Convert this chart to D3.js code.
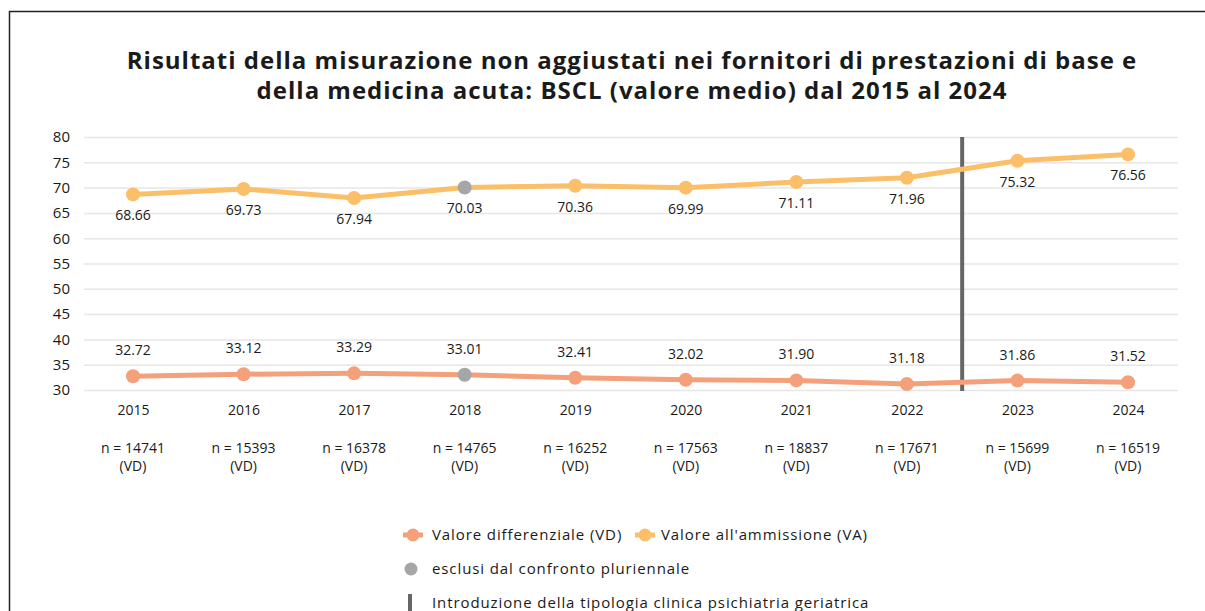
<!DOCTYPE html>
<html>
<head>
<meta charset="utf-8">
<script src="https://cdn.jsdelivr.net/npm/d3@7"></script>
<style>
html,body{margin:0;padding:0;background:#fff;}
svg{display:block;}
text{font-family:"Open Sans",sans-serif;fill:#1a1a1a;}
</style>
</head>
<body>
<svg id="chart" width="1205" height="611"></svg>
<script>
const years = ["2015","2016","2017","2018","2019","2020","2021","2022","2023","2024"];
const valoreVA = [68.66,69.73,67.94,70.03,70.36,69.99,71.11,71.96,75.32,76.56];
const valoreVD = [32.72,33.12,33.29,33.01,32.41,32.02,31.90,31.18,31.86,31.52];
const nVD = [14741,15393,16378,14765,16252,17563,18837,17671,15699,16519];
const excludedYears = ["2018"];
const yTicks = [30,35,40,45,50,55,60,65,70,75,80];
const titleLines = ["Risultati della misurazione non aggiustati nei fornitori di prestazioni di base e","della medicina acuta: BSCL (valore medio) dal 2015 al 2024"];
const legendSeries = ["Valore differenziale (VD)","Valore all'ammissione (VA)"];
const legendExcluded = "esclusi dal confronto pluriennale";
const legendLine = "Introduzione della tipologia clinica psichiatria geriatrica";
const breakAfter = "2022";

const colVD = "#F4A07A", colVA = "#FBBF69", colGrey = "#A6A6A6", colBar = "#666666";

const svg = d3.select("#chart");

// frame
svg.append("path").attr("d","M9.5,611 L9.5,11.5 L1205,11.5")
  .attr("fill","none").attr("stroke","#222").attr("stroke-width",1.5);

// title
const title = svg.append("text").attr("text-anchor","middle")
  .style("font-weight","700").style("font-size","24px").style("letter-spacing","1px");
titleLines.forEach((t,i)=>title.append("tspan").attr("x",632).attr("y",69+i*30).text(t));

const x = d3.scalePoint().domain(years).range([133,1128]);
const y = d3.scaleLinear().domain([30,80]).range([390,137]);

// grid
const yAxis = d3.axisLeft(y).tickValues(yTicks).tickSize(-(1178-84)).tickPadding(14);
const gy = svg.append("g").attr("transform","translate(84,0)").call(yAxis);
gy.select(".domain").remove();
gy.selectAll(".tick line").attr("stroke","#e6e6e6").attr("stroke-width",1.5);
gy.selectAll(".tick text").style("font-size","15px").attr("fill","#1a1a1a").attr("x",-14);

// x labels
const xAxis = d3.axisBottom(x).tickSize(0).tickPadding(0);
const gx = svg.append("g").attr("transform","translate(0,405)").call(xAxis);
gx.select(".domain").remove();
gx.selectAll(".tick text").style("font-size","14px").attr("fill","#1a1a1a");

const nGroup = svg.append("g");
years.forEach((yr,i)=>{
  const t = nGroup.append("text").attr("text-anchor","middle").style("font-size","14px");
  t.append("tspan").attr("x",x(yr)).attr("y",453).text("n = "+nVD[i]);
  t.append("tspan").attr("x",x(yr)).attr("y",471).text("(VD)");
});

// vertical break line
const bx = (x(breakAfter)+x(years[years.indexOf(breakAfter)+1]))/2;
svg.append("line").attr("x1",bx).attr("x2",bx).attr("y1",y(80)).attr("y2",y(30)+1)
  .attr("stroke",colBar).attr("stroke-width",4);

// lines
const line = d3.line().x(d=>x(d.year)).y(d=>y(d.v));
const dVA = years.map((yr,i)=>({year:yr,v:valoreVA[i]}));
const dVD = years.map((yr,i)=>({year:yr,v:valoreVD[i]}));
[[dVA,colVA],[dVD,colVD]].forEach(([d,c])=>{
  svg.append("path").datum(d).attr("d",line).attr("fill","none")
    .attr("stroke",c).attr("stroke-width",5).attr("stroke-linejoin","round");
  svg.selectAll(null).data(d).enter().append("circle")
    .attr("cx",p=>x(p.year)).attr("cy",p=>y(p.v)).attr("r",7)
    .attr("fill",p=>excludedYears.includes(p.year)?colGrey:c);
});

// value labels
svg.selectAll(null).data(dVA).enter().append("text")
  .attr("x",p=>x(p.year)).attr("y",p=>y(p.v)+26).attr("text-anchor","middle")
  .style("font-size","14px").text(p=>p.v.toFixed(2));
svg.selectAll(null).data(dVD).enter().append("text")
  .attr("x",p=>x(p.year)).attr("y",p=>y(p.v)-21).attr("text-anchor","middle")
  .style("font-size","14px").text(p=>p.v.toFixed(2));

// legend
const lg = svg.append("g").style("font-size","15px").style("letter-spacing","0.9px");
function seriesMarker(cx,cy,c){
  lg.append("line").attr("x1",cx-10).attr("x2",cx+10).attr("y1",cy).attr("y2",cy)
    .attr("stroke",c).attr("stroke-width",5);
  lg.append("circle").attr("cx",cx).attr("cy",cy).attr("r",6.5).attr("fill",c);
}
seriesMarker(413,535,colVD);
lg.append("text").attr("x",432).attr("y",540).text(legendSeries[0]);
seriesMarker(645,535,colVA);
lg.append("text").attr("x",661).attr("y",540).text(legendSeries[1]);
lg.append("circle").attr("cx",411).attr("cy",569).attr("r",6.5).attr("fill",colGrey);
lg.append("text").attr("x",432).attr("y",574).text(legendExcluded);
lg.append("line").attr("x1",410).attr("x2",410).attr("y1",594).attr("y2",612)
  .attr("stroke",colBar).attr("stroke-width",4);
lg.append("text").attr("x",432).attr("y",608).text(legendLine);
</script>
</body>
</html>
